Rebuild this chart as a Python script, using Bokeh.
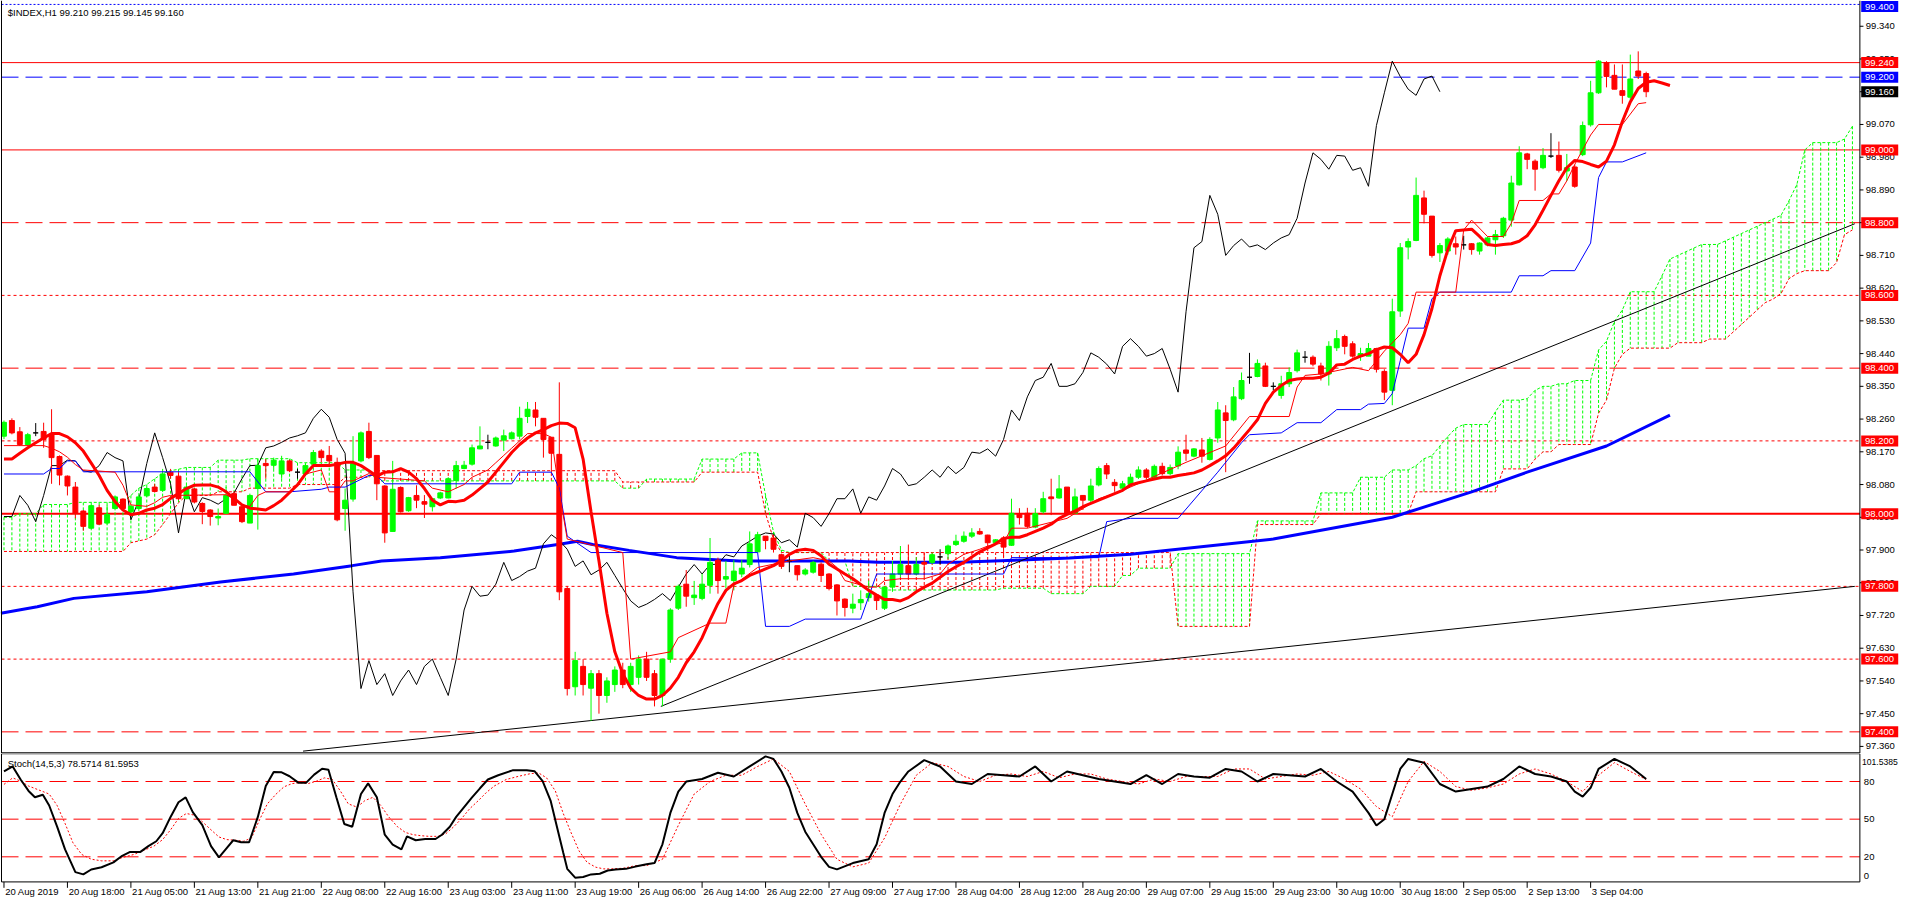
from bokeh.plotting import figure
from bokeh.layouts import column
from bokeh.models import ColumnDataSource, Range1d
from bokeh.core.properties import value
from bokeh.embed import file_html
from bokeh.resources import INLINE

FONT = "Liberation Sans"
FS = "9.5px"

# ---------------- data ----------------
x_labels = ["20 Aug 2019", "20 Aug 18:00", "21 Aug 05:00", "21 Aug 13:00", "21 Aug 21:00",
            "22 Aug 08:00", "22 Aug 16:00", "23 Aug 03:00", "23 Aug 11:00", "23 Aug 19:00",
            "26 Aug 06:00", "26 Aug 14:00", "26 Aug 22:00", "27 Aug 09:00", "27 Aug 17:00",
            "28 Aug 04:00", "28 Aug 12:00", "28 Aug 20:00", "29 Aug 07:00", "29 Aug 15:00",
            "29 Aug 23:00", "30 Aug 10:00", "30 Aug 18:00", "2 Sep 05:00", "2 Sep 13:00",
            "3 Sep 04:00"]
x_label_bars = [0, 8, 16, 24, 32, 40, 48, 56, 64, 72, 80, 88, 96, 104, 112, 120, 128, 136,
                144, 152, 160, 168, 176, 184, 192, 200]

price_ticks = [97.36, 97.45, 97.54, 97.63, 97.72, 97.81, 97.90, 97.99, 98.08, 98.17, 98.26,
               98.35, 98.44, 98.53, 98.62, 98.71, 98.80, 98.89, 98.98, 99.07, 99.16, 99.25, 99.34]

opens = [98.213, 98.256, 98.225, 98.190, 98.222, 98.226, 98.217, 98.157, 98.103, 98.073,
         98.007, 97.960, 98.016, 97.974, 98.014, 98.040, 98.005, 98.014, 98.049, 98.073,
         98.064, 98.114, 98.103, 98.041, 98.068, 98.028, 98.010, 97.988, 98.001, 98.055,
         98.019, 97.974, 98.069, 98.138, 98.133, 98.109, 98.145, 98.114, 98.109, 98.136,
         98.172, 98.160, 98.141, 98.014, 98.040, 98.145, 98.226, 98.160, 98.076, 97.951,
         98.072, 98.008, 98.050, 98.033, 98.019, 98.043, 98.043, 98.091, 98.124, 98.136,
         98.178, 98.196, 98.186, 98.202, 98.206, 98.213, 98.267, 98.285, 98.262, 98.210,
         98.163, 97.794, 97.524, 97.580, 97.520, 97.560, 97.500, 97.530, 97.570, 97.530,
         97.550, 97.600, 97.560, 97.500, 97.600, 97.740, 97.806, 97.769, 97.767, 97.803,
         97.872, 97.820, 97.816, 97.834, 97.860, 97.895, 97.938, 97.933, 97.887, 97.870,
         97.857, 97.834, 97.839, 97.861, 97.834, 97.804, 97.765, 97.740, 97.755, 97.769,
         97.776, 97.740, 97.798, 97.834, 97.857, 97.834, 97.866, 97.866, 97.881, 97.890,
         97.915, 97.924, 97.938, 97.951, 97.941, 97.920, 97.933, 97.913, 97.998, 98.001,
         97.963, 98.005, 98.046, 98.043, 98.073, 98.001, 98.050, 98.037, 98.079, 98.132,
         98.086, 98.070, 98.080, 98.100, 98.120, 98.100, 98.130, 98.110, 98.131, 98.175,
         98.158, 98.175, 98.149, 98.208, 98.277, 98.258, 98.316, 98.375, 98.377, 98.406,
         98.350, 98.325, 98.357, 98.393, 98.430, 98.430, 98.406, 98.384, 98.456, 98.487,
         98.467, 98.433, 98.433, 98.454, 98.391, 98.339, 98.557, 98.733, 98.751, 98.868,
         98.818, 98.717, 98.722, 98.742, 98.739, 98.742, 98.722, 98.739, 98.753, 98.764,
         98.807, 98.904, 98.989, 98.969, 98.951, 98.983, 98.985, 98.942, 98.953, 98.987,
         99.069, 99.157, 99.240, 99.205, 99.163, 99.145, 99.217, 99.210]
highs = [98.256, 98.262, 98.238, 98.222, 98.249, 98.250, 98.287, 98.160, 98.105, 98.087,
         98.010, 98.024, 98.024, 98.024, 98.050, 98.042, 98.025, 98.050, 98.073, 98.082,
         98.123, 98.123, 98.114, 98.078, 98.070, 98.031, 98.012, 98.014, 98.073, 98.061,
         98.021, 98.055, 98.150, 98.150, 98.154, 98.159, 98.148, 98.123, 98.136, 98.175,
         98.177, 98.186, 98.154, 98.069, 98.213, 98.226, 98.250, 98.160, 98.078, 98.145,
         98.075, 98.046, 98.078, 98.051, 98.042, 98.060, 98.100, 98.145, 98.145, 98.190,
         98.240, 98.217, 98.212, 98.231, 98.226, 98.294, 98.307, 98.307, 98.262, 98.210,
         98.361, 97.800, 97.620, 97.600, 97.570, 97.570, 97.550, 97.580, 97.590, 97.590,
         97.610, 97.620, 97.570, 97.520, 97.740, 97.805, 97.845, 97.815, 97.835, 97.933,
         97.879, 97.870, 97.872, 97.872, 97.951, 97.950, 97.938, 97.942, 97.890, 97.884,
         97.857, 97.850, 97.870, 97.866, 97.836, 97.806, 97.767, 97.780, 97.789, 97.816,
         97.776, 97.800, 97.870, 97.911, 97.915, 97.880, 97.893, 97.893, 97.902, 97.915,
         97.942, 97.951, 97.960, 97.960, 97.942, 97.930, 97.938, 98.041, 98.015, 98.016,
         98.015, 98.060, 98.096, 98.106, 98.073, 98.069, 98.050, 98.096, 98.130, 98.139,
         98.095, 98.090, 98.110, 98.130, 98.125, 98.135, 98.140, 98.135, 98.185, 98.217,
         98.180, 98.208, 98.210, 98.307, 98.298, 98.348, 98.388, 98.442, 98.424, 98.415,
         98.361, 98.379, 98.402, 98.451, 98.447, 98.435, 98.415, 98.474, 98.505, 98.492,
         98.474, 98.456, 98.469, 98.456, 98.397, 98.591, 98.744, 98.757, 98.924, 98.888,
         98.818, 98.744, 98.760, 98.762, 98.764, 98.744, 98.746, 98.762, 98.780, 98.816,
         98.929, 99.010, 98.992, 98.974, 99.005, 99.046, 99.023, 98.989, 98.960, 99.078,
         99.190, 99.247, 99.244, 99.235, 99.235, 99.262, 99.271, 99.215]
lows = [98.205, 98.218, 98.186, 98.186, 98.213, 98.181, 98.082, 98.078, 98.050, 97.987,
        97.953, 97.958, 97.970, 97.970, 98.014, 98.010, 98.000, 98.012, 98.046, 98.058,
        98.060, 98.096, 98.037, 98.040, 98.028, 97.971, 97.967, 97.968, 98.000, 98.023,
        97.974, 97.974, 97.956, 98.096, 98.123, 98.096, 98.114, 98.096, 98.105, 98.132,
        98.141, 98.136, 97.979, 97.953, 98.033, 98.141, 98.150, 98.037, 97.920, 97.951,
        98.003, 98.005, 98.015, 97.988, 98.006, 98.040, 98.042, 98.069, 98.122, 98.132,
        98.177, 98.177, 98.184, 98.172, 98.204, 98.204, 98.249, 98.240, 98.154, 98.114,
        97.762, 97.500, 97.500, 97.500, 97.430, 97.450, 97.480, 97.510, 97.520, 97.510,
        97.530, 97.540, 97.470, 97.470, 97.590, 97.735, 97.744, 97.749, 97.762, 97.780,
        97.780, 97.794, 97.789, 97.825, 97.852, 97.893, 97.902, 97.893, 97.848, 97.839,
        97.816, 97.830, 97.835, 97.812, 97.789, 97.720, 97.717, 97.726, 97.735, 97.758,
        97.735, 97.735, 97.785, 97.825, 97.825, 97.830, 97.825, 97.861, 97.861, 97.875,
        97.911, 97.920, 97.933, 97.942, 97.897, 97.915, 97.880, 97.911, 97.970, 97.960,
        97.960, 98.000, 97.996, 98.041, 97.997, 98.001, 98.010, 98.032, 98.075, 98.095,
        98.060, 98.060, 98.075, 98.095, 98.095, 98.098, 98.105, 98.105, 98.122, 98.145,
        98.155, 98.140, 98.146, 98.195, 98.114, 98.254, 98.312, 98.357, 98.375, 98.348,
        98.339, 98.316, 98.348, 98.388, 98.415, 98.405, 98.366, 98.352, 98.447, 98.438,
        98.429, 98.420, 98.433, 98.388, 98.312, 98.298, 98.541, 98.699, 98.749, 98.798,
        98.704, 98.692, 98.712, 98.712, 98.726, 98.712, 98.712, 98.735, 98.712, 98.758,
        98.789, 98.902, 98.947, 98.888, 98.947, 98.978, 98.938, 98.915, 98.896, 98.983,
        99.064, 99.154, 99.172, 99.167, 99.127, 99.132, 99.195, 99.145]
closes = [98.251, 98.222, 98.190, 98.217, 98.222, 98.204, 98.154, 98.106, 98.076, 98.001,
          97.965, 98.022, 97.971, 97.998, 98.046, 98.014, 98.020, 98.046, 98.069, 98.061,
          98.109, 98.105, 98.041, 98.073, 98.032, 98.006, 97.992, 97.992, 98.050, 98.023,
          97.978, 98.050, 98.132, 98.132, 98.147, 98.145, 98.118, 98.114, 98.132, 98.168,
          98.154, 98.145, 97.983, 98.037, 98.138, 98.222, 98.154, 98.082, 97.947, 98.067,
          98.005, 98.044, 98.037, 98.026, 98.041, 98.057, 98.096, 98.132, 98.133, 98.181,
          98.186, 98.196, 98.208, 98.214, 98.222, 98.262, 98.287, 98.265, 98.204, 98.166,
          97.785, 97.519, 97.596, 97.530, 97.560, 97.500, 97.540, 97.570, 97.530, 97.580,
          97.600, 97.550, 97.500, 97.600, 97.735, 97.800, 97.773, 97.776, 97.806, 97.866,
          97.816, 97.827, 97.842, 97.850, 97.917, 97.942, 97.926, 97.902, 97.855, 97.870,
          97.832, 97.845, 97.866, 97.830, 97.794, 97.760, 97.742, 97.751, 97.764, 97.780,
          97.761, 97.798, 97.834, 97.860, 97.834, 97.860, 97.861, 97.887, 97.881, 97.911,
          97.924, 97.938, 97.947, 97.944, 97.920, 97.928, 97.908, 98.001, 97.989, 97.965,
          98.000, 98.041, 98.041, 98.068, 98.001, 98.046, 98.037, 98.076, 98.124, 98.109,
          98.077, 98.082, 98.100, 98.120, 98.100, 98.130, 98.110, 98.127, 98.169, 98.166,
          98.178, 98.158, 98.204, 98.285, 98.256, 98.321, 98.366, 98.375, 98.413, 98.350,
          98.350, 98.357, 98.388, 98.442, 98.430, 98.411, 98.384, 98.460, 98.481, 98.460,
          98.433, 98.440, 98.454, 98.397, 98.334, 98.555, 98.731, 98.748, 98.875, 98.823,
          98.710, 98.737, 98.755, 98.733, 98.739, 98.726, 98.744, 98.758, 98.767, 98.812,
          98.909, 98.992, 98.974, 98.947, 98.985, 98.983, 98.944, 98.951, 98.900, 99.067,
          99.157, 99.244, 99.202, 99.167, 99.150, 99.195, 99.203, 99.160]

ma_fast = [98.150, 98.150, 98.166, 98.181, 98.195, 98.208, 98.220, 98.220, 98.211, 98.195,
           98.172, 98.139, 98.105, 98.064, 98.033, 98.010, 97.997, 98.001, 98.010, 98.015,
           98.025, 98.042, 98.055, 98.069, 98.078, 98.079, 98.079, 98.073, 98.060, 98.042,
           98.024, 98.015, 98.013, 98.010, 98.022, 98.037, 98.058, 98.079, 98.109, 98.132,
           98.132, 98.132, 98.136, 98.141, 98.141, 98.132, 98.118, 98.103, 98.114, 98.115,
           98.124, 98.114, 98.096, 98.069, 98.037, 98.024, 98.034, 98.033, 98.037, 98.051,
           98.069, 98.087, 98.114, 98.141, 98.168, 98.190, 98.208, 98.222, 98.231, 98.242,
           98.249, 98.248, 98.236, 98.150, 98.005, 97.870, 97.726, 97.620, 97.560, 97.520,
           97.500, 97.490, 97.490, 97.500, 97.520, 97.550, 97.590, 97.620, 97.659, 97.708,
           97.753, 97.789, 97.807, 97.816, 97.830, 97.839, 97.848, 97.857, 97.870, 97.888,
           97.899, 97.902, 97.899, 97.884, 97.861, 97.848, 97.834, 97.821, 97.805, 97.789,
           97.776, 97.764, 97.764, 97.760, 97.769, 97.785, 97.798, 97.809, 97.825, 97.841,
           97.854, 97.866, 97.881, 97.895, 97.906, 97.917, 97.932, 97.935, 97.935, 97.942,
           97.951, 97.960, 97.971, 97.987, 97.998, 98.007, 98.019, 98.028, 98.037, 98.046,
           98.055, 98.064, 98.079, 98.085, 98.090, 98.095, 98.100, 98.100, 98.105, 98.108,
           98.112, 98.120, 98.132, 98.145, 98.159, 98.180, 98.205, 98.231, 98.258, 98.303,
           98.334, 98.352, 98.366, 98.370, 98.372, 98.372, 98.375, 98.386, 98.409, 98.411,
           98.424, 98.433, 98.440, 98.451, 98.458, 98.456, 98.438, 98.415, 98.438, 98.492,
           98.564, 98.654, 98.726, 98.778, 98.780, 98.782, 98.762, 98.740, 98.737, 98.740,
           98.742, 98.749, 98.764, 98.794, 98.834, 98.875, 98.915, 98.951, 98.971, 98.968,
           98.960, 98.953, 98.969, 99.014, 99.078, 99.132, 99.169, 99.186, 99.190, 99.184,
           99.177]

ma_slow_x = [-0.4, 4.2, 8.8, 18, 27.3, 36.5, 43.9, 47.6, 55, 64.3, 69.8, 72.3, 74.2, 78.8,
             84.8, 92.7, 106.5, 110.2, 120.4, 127.4, 134.3, 142, 160, 175, 185, 192, 202, 210]
ma_slow_y = [97.726, 97.744, 97.767, 97.785, 97.812, 97.834, 97.857, 97.870, 97.879, 97.897,
             97.915, 97.924, 97.915, 97.899, 97.879, 97.870, 97.870, 97.866, 97.866, 97.872,
             97.878, 97.888, 97.930, 97.990, 98.060, 98.114, 98.186, 98.271]

tenkan_x = [0, 5, 6, 7, 8, 9, 10, 14, 15, 16, 18, 19, 20, 21, 28, 29, 30, 31, 32, 33, 36, 37,
            38, 40, 41, 42, 43, 44, 45, 46, 47, 53, 54, 56, 57, 58, 59, 60, 61, 62, 63, 64, 65,
            66, 68, 69, 70, 71, 78, 79, 84, 85, 89, 91, 92, 95, 97, 99, 102, 104, 105, 106, 109,
            110, 111, 113, 116, 118, 119, 121, 123, 124, 126, 127, 129, 134, 136, 138, 140, 142,
            149, 154, 157, 162, 163, 164, 166, 170, 172, 174, 176, 177, 178, 183, 184, 185, 187,
            189, 190, 191, 194, 195, 196, 197, 198, 200, 201, 204, 206, 207]
tenkan_y = [98.187, 98.187, 98.180, 98.170, 98.155, 98.135, 98.120, 98.114, 98.078, 98.024,
            98.020, 98.030, 98.045, 98.050, 98.052, 98.040, 98.024, 98.020, 98.050, 98.060,
            98.060, 98.079, 98.109, 98.120, 98.060, 98.060, 98.090, 98.090, 98.100, 98.110,
            98.100, 98.090, 98.070, 98.060, 98.070, 98.080, 98.100, 98.110, 98.120, 98.140,
            98.160, 98.180, 98.200, 98.220, 98.220, 98.210, 98.060, 97.930, 97.893, 97.600,
            97.620, 97.659, 97.699, 97.699, 97.803, 97.852, 97.861, 97.870, 97.879, 97.870,
            97.852, 97.816, 97.798, 97.798, 97.816, 97.821, 97.821, 97.834, 97.861, 97.888,
            97.902, 97.911, 97.920, 97.960, 97.960, 97.987, 98.014, 98.041, 98.055, 98.073,
            98.141, 98.186, 98.267, 98.267, 98.348, 98.380, 98.384, 98.402, 98.393, 98.447,
            98.492, 98.523, 98.609, 98.609, 98.780, 98.807, 98.762, 98.762, 98.798, 98.861,
            98.861, 98.879, 98.879, 98.915, 98.960, 99.041, 99.070, 99.070, 99.127, 99.130]
kijun_x = [0, 5, 6, 7, 8, 9, 10, 31, 33, 36, 40, 41, 43, 46, 47, 48, 64, 65, 69, 70, 71, 74,
           95, 96, 99, 101, 108, 110, 126, 127, 138, 139, 142, 148, 153, 156, 157, 161, 163,
           166, 168, 171, 172, 174, 175, 176, 177, 179, 180, 181, 190, 191, 194, 195, 198, 200,
           201, 202, 204, 207]
kijun_y = [98.109, 98.109, 98.124, 98.124, 98.145, 98.145, 98.115, 98.115, 98.060, 98.060,
           98.067, 98.073, 98.073, 98.105, 98.105, 98.082, 98.082, 98.114, 98.114, 98.070,
           97.938, 97.893, 97.893, 97.690, 97.690, 97.710, 97.710, 97.834, 97.834, 97.879,
           97.879, 97.978, 97.987, 97.987, 98.114, 98.195, 98.217, 98.222, 98.250, 98.250,
           98.286, 98.286, 98.301, 98.303, 98.330, 98.420, 98.510, 98.510, 98.591, 98.609,
           98.609, 98.654, 98.654, 98.668, 98.668, 98.744, 98.924, 98.967, 98.967, 98.992]

senkou_a = [97.99, 97.99, 98.0, 98.0, 98.0, 98.025, 98.025, 98.025, 98.025, 98.031,
            98.031, 98.031, 98.031, 98.031, 98.031, 98.031, 98.05, 98.07, 98.08, 98.096,
            98.11, 98.118, 98.122, 98.127, 98.127, 98.127, 98.127, 98.147, 98.147, 98.147,
            98.147, 98.151, 98.151, 98.151, 98.151, 98.151, 98.151, 98.14, 98.14, 98.14,
            98.14, 98.14, 98.14, 98.12, 98.12, 98.12, 98.12, 98.09, 98.09, 98.09,
            98.09, 98.09, 98.09, 98.09, 98.09, 98.09, 98.09, 98.09, 98.09, 98.09,
            98.09, 98.09, 98.09, 98.09, 98.09, 98.09, 98.09, 98.09, 98.09, 98.09,
            98.09, 98.09, 98.09, 98.09, 98.09, 98.09, 98.09, 98.09, 98.07, 98.07,
            98.07, 98.095, 98.095, 98.095, 98.095, 98.095, 98.095, 98.095, 98.15, 98.15,
            98.15, 98.15, 98.15, 98.167, 98.167, 98.167, 98.05, 97.95, 97.90, 97.893,
            97.893, 97.893, 97.893, 97.893, 97.87, 97.87, 97.87, 97.80, 97.80, 97.80,
            97.80, 97.79, 97.79, 97.79, 97.79, 97.79, 97.79, 97.79, 97.79, 97.79,
            97.79, 97.79, 97.79, 97.79, 97.79, 97.79, 97.795, 97.795, 97.795, 97.795,
            97.795, 97.795, 97.78, 97.78, 97.78, 97.78, 97.78, 97.80, 97.80, 97.80,
            97.80, 97.83, 97.83, 97.85, 97.85, 97.85, 97.85, 97.85, 97.89, 97.89,
            97.89, 97.89, 97.89, 97.89, 97.89, 97.89, 97.89, 97.89, 97.98, 97.98,
            97.98, 97.98, 97.98, 97.98, 97.98, 97.98, 98.057, 98.057, 98.057, 98.057,
            98.057, 98.10, 98.10, 98.10, 98.10, 98.12, 98.12, 98.12, 98.132, 98.151,
            98.159, 98.186, 98.212, 98.235, 98.245, 98.245, 98.245, 98.245, 98.28, 98.312,
            98.312, 98.312, 98.316, 98.339, 98.35, 98.35, 98.357, 98.357, 98.366, 98.366,
            98.366, 98.45, 98.474, 98.528, 98.56, 98.61, 98.61, 98.61, 98.61, 98.654,
            98.70, 98.71, 98.72, 98.73, 98.74, 98.74, 98.74, 98.75, 98.76, 98.77,
            98.78, 98.79, 98.80, 98.81, 98.82, 98.86, 98.905, 99.0, 99.02, 99.02,
            99.02, 99.02, 99.03, 99.065]
senkou_b = [97.896, 97.896, 97.896, 97.896, 97.896, 97.896, 97.896, 97.896, 97.896, 97.896,
            97.896, 97.896, 97.896, 97.896, 97.896, 97.896, 97.92, 97.925, 97.93, 97.942,
            97.97, 98.0, 98.03, 98.05, 98.05, 98.05, 98.05, 98.06, 98.06, 98.06,
            98.06, 98.07, 98.07, 98.07, 98.07, 98.07, 98.07, 98.08, 98.08, 98.08,
            98.08, 98.08, 98.08, 98.10, 98.10, 98.10, 98.10, 98.118, 98.118, 98.118,
            98.118, 98.118, 98.118, 98.118, 98.118, 98.118, 98.118, 98.118, 98.118, 98.118,
            98.118, 98.118, 98.118, 98.118, 98.118, 98.118, 98.118, 98.118, 98.118, 98.118,
            98.118, 98.118, 98.118, 98.118, 98.118, 98.118, 98.118, 98.118, 98.087, 98.087,
            98.087, 98.087, 98.087, 98.087, 98.087, 98.087, 98.087, 98.087, 98.114, 98.114,
            98.114, 98.114, 98.114, 98.114, 98.114, 98.114, 98.0, 97.93, 97.893, 97.893,
            97.893, 97.893, 97.893, 97.893, 97.893, 97.893, 97.893, 97.893, 97.893, 97.893,
            97.893, 97.893, 97.893, 97.893, 97.893, 97.893, 97.893, 97.893, 97.893, 97.893,
            97.893, 97.893, 97.893, 97.893, 97.893, 97.893, 97.893, 97.893, 97.893, 97.893,
            97.893, 97.893, 97.893, 97.893, 97.893, 97.893, 97.893, 97.893, 97.893, 97.893,
            97.893, 97.893, 97.893, 97.893, 97.893, 97.893, 97.893, 97.893, 97.69, 97.69,
            97.69, 97.69, 97.69, 97.69, 97.69, 97.69, 97.69, 97.69, 97.97, 97.97,
            97.97, 97.97, 97.97, 97.97, 97.97, 97.97, 98.0, 98.0, 98.0, 98.0,
            98.0, 98.0, 98.0, 98.0, 98.0, 98.0, 98.0, 98.0, 98.06, 98.06,
            98.06, 98.06, 98.06, 98.06, 98.06, 98.06, 98.06, 98.06, 98.06, 98.123,
            98.123, 98.123, 98.123, 98.15, 98.17, 98.17, 98.19, 98.19, 98.19, 98.19,
            98.19, 98.276, 98.312, 98.40, 98.438, 98.455, 98.455, 98.455, 98.455, 98.455,
            98.455, 98.47, 98.47, 98.47, 98.47, 98.48, 98.48, 98.48, 98.50, 98.52,
            98.54, 98.56, 98.58, 98.59, 98.605, 98.646, 98.66, 98.668, 98.668, 98.668,
            98.668, 98.69, 98.767, 98.78]

CHIKOU_SHIFT = 26

level_prices = [99.400, 99.240, 99.200, 99.000, 98.800, 98.600, 98.400, 98.200, 98.000,
                97.800, 97.600, 97.400]
current_price = 99.160

trend1_x = [37.7, 233.3]
trend1_y = [97.347, 97.800]
trend2_x = [82.8, 233.3]
trend2_y = [97.470, 98.797]

stoch_x = [0, 1.1, 2.1, 3.1, 3.9, 4.9, 5.7, 6.7, 7.7, 9, 10, 11, 12.3, 13.8, 14.9, 15.9, 17.2,
           18.2, 19.2, 20, 21, 22, 22.9, 23.8, 25, 26.1, 27.1, 28.1, 28.9, 29.9, 30.9, 32, 33,
           34, 35, 36, 37.1, 38.1, 39.1, 40.1, 40.9, 41.9, 42.9, 43.9, 45, 45.9, 47, 48, 49,
           50.1, 50.8, 51.9, 53.1, 54.4, 55.2, 56.2, 57, 58, 59, 60, 61, 62.3, 64.1, 65.9,
           66.9, 67.9, 68.9, 69.7, 70.5, 71, 72, 73, 74, 75.1, 76.1, 77.1, 78.4, 79.6,
           81, 82, 83, 84, 85, 86, 88, 90, 92, 94, 96, 97, 98, 99, 100, 101, 102, 103, 104,
           105, 107, 109, 110, 111, 112, 113, 114, 116, 118, 120, 122, 124, 126, 128, 130,
           132, 134, 136, 138, 140, 142, 144, 146, 148, 150, 152, 154, 156, 158, 160, 162,
           164, 166, 168, 170, 172, 173, 174, 175, 176, 177, 179, 181, 183, 185, 187, 189,
           191, 193, 195, 197, 198, 199, 200, 201, 203, 205, 207]
stoch_main = [88, 92, 81.6, 72.5, 67.4, 69.4, 60.9, 44, 25.9, 7.8, 6, 9.9, 11.7, 15.6, 20.8,
              23.9, 23.9, 28.5, 32.4, 38.8, 51.8, 63.5, 67.4, 55.6, 45.3, 28.5, 19.5, 27.2,
              33.2, 31.6, 31.6, 51.8, 76.4, 87.6, 87.3, 84.2, 79.1, 79.1, 85.5, 90.2, 89.4,
              67.4, 46.1, 44, 70, 78.5, 67.4, 37.6, 29.8, 25.9, 36.3, 33.2, 34.2, 34.2, 37.6,
              44, 51.8, 59.6, 67.4, 74.6, 81.6, 85, 88.9, 88.9, 88.1, 80.3, 64.8, 44, 23.3,
              10.4, 3.4, 3.9, 6, 6.5, 9.1, 9.9, 10.4, 12.2,
              14, 15, 30, 55, 72, 80, 82, 87, 84, 92, 100, 98, 88, 75, 55, 40, 30, 20, 12,
              10, 15, 18, 30, 55, 70, 80, 88, 97, 92, 80, 78, 86, 85, 84, 92, 80, 88, 85, 82,
              80, 78, 85, 78, 86, 84, 83, 90, 88, 80, 86, 85, 84, 90, 80, 72, 55, 45, 50, 70,
              90, 98, 95, 78, 72, 74, 76, 82, 92, 86, 84, 80, 72, 68, 75, 90, 98, 92, 82,
              78.57]
signal_x = [0, 1.1, 2.1, 3.1, 4.7, 5.7, 6.7, 7.7, 8.7, 9.8, 11, 12.3, 13.8, 14.9, 16.4, 17.9,
            18.9, 20, 21, 22, 23, 24, 25, 26.1, 27.1, 28.1, 29.2, 30.2, 31.2, 32.2, 33.2, 34.3,
            35.3, 36.3, 37.3, 38.3, 39.4, 40.4, 41.4, 42.4, 43.4, 44.5, 45.5, 46.5, 47.5, 48.5,
            49.6, 50.6, 51.6, 52.6, 53.6, 54.7, 55.7, 56.7, 57.7, 58.7, 59.8, 60.8, 61.8, 63.3,
            64.9, 66.4, 67.4, 68.4, 69.5, 70.5, 71.5, 72.5, 73.5, 74.6, 75.6, 76.6, 78.1, 79.6,
            81, 83, 85, 87, 89, 91, 93, 95, 97, 99, 101, 103, 105, 107, 109, 111, 113, 115,
            117, 119, 121, 123, 125, 127, 129, 131, 133, 135, 137, 139, 141, 143, 145, 147,
            149, 151, 153, 155, 157, 159, 161, 163, 165, 167, 169, 171, 173, 175, 177, 179,
            181, 183, 185, 187, 189, 191, 193, 195, 197, 199, 201, 203, 205, 207]
stoch_signal = [77.7, 82.9, 80.3, 76.4, 72.5, 70, 60.9, 46.6, 31.1, 21.9, 18.1, 16.8, 16.8,
                19.4, 21.9, 25.9, 28.5, 33.7, 41.5, 50.6, 54.5, 53.2, 48, 41.5, 35.8, 33.7,
                33.2, 32.4, 35, 49.3, 62.2, 70, 75.8, 78.3, 79.1, 78.3, 80.3, 82.9, 81.6, 72.5,
                62.2, 59.6, 64.8, 67.4, 60.9, 51.8, 44, 39.4, 37.6, 36.8, 36.3, 36.3, 38.4, 44,
                50.6, 58.3, 64.8, 71.2, 76.4, 81.6, 84.2, 86.3, 86.8, 82.9, 72.5, 54.5, 39,
                24.6, 15.6, 11.7, 10.4, 10.4, 10.9, 13,
                13, 18, 45, 70, 80, 85, 85, 92, 98, 88, 62, 38, 18, 12, 15, 35, 62, 85, 95,
                92, 84, 80, 85, 86, 84, 88, 83, 86, 86, 82, 80, 78, 82, 80, 84, 84, 84, 90,
                90, 82, 84, 86, 85, 88, 82, 74, 60, 52, 80, 96, 88, 76, 73, 75, 78, 86, 90,
                86, 80, 72, 85, 95, 88, 81.6]
stoch_levels = [80, 50, 20]
stoch_axis_labels = ["101.5385", "80", "50", "20", "0"]
stoch_axis_values = [101.5385, 80, 50, 20, 0]

# ---------------- layout / style ----------------
GREEN = "#00ff00"
RED = "#ff0000"
BLUE = "#0000ff"
level_colors = [BLUE, RED, BLUE, RED, RED, RED, RED, RED, RED, RED, RED, RED]
level_dashes = ["2 2", "solid", "17 7", "solid", "17 7", "3 3", "17 7", "3 3", "solid",
                "3 3", "3 3", "17 7"]
level_widths = [1, 1, 1, 1, 1, 1, 1, 1, 2, 1, 1, 1]

W = 1900
XL, XR = -0.4375, 239.06          # whole canvas width, in bars
FR_L, FR_R = -0.31, 233.94        # plotting area left edge / price-axis line
MAIN_H, STO_H = 753, 149
PY0, PY1 = 97.3405, 99.4108
SY0, SY1 = -16.402, 102.319
TXT_X = 234.69                    # left edge of the price-axis texts
BOX_X = 236.44                    # centre of the price boxes
TOP_BOX_DROP = 0.0165             # keeps the topmost box inside the window


def txt(fig, x, y, t, color="black", align="left", baseline="middle", size=FS):
    fig.text(x=x, y=y, text=t, text_font=value(FONT), text_font_size=value(size),
             text_color=color, text_align=align, text_baseline=baseline)


p = figure(width=W, height=MAIN_H, x_range=Range1d(XL, XR), y_range=Range1d(PY0, PY1),
           output_backend="svg", toolbar_location=None, x_axis_location=None,
           y_axis_location=None, min_border=0)
p.xgrid.visible = False
p.ygrid.visible = False
p.outline_line_color = None
p.background_fill_color = "white"
p.border_fill_color = "white"

for lv, c, d, w in zip(level_prices, level_colors, level_dashes, level_widths):
    p.segment(x0=[FR_L], y0=[lv], x1=[FR_R], y1=[lv], line_color=c, line_dash=d, line_width=w)

bars_all = list(range(len(senkou_a)))
hcol = [GREEN if a >= b else RED for a, b in zip(senkou_a, senkou_b)]
p.segment(x0=bars_all, y0=senkou_a, x1=bars_all, y1=senkou_b, line_color=hcol,
          line_width=1, line_dash="3 2")
p.line(bars_all, senkou_a, line_color=GREEN, line_width=1, line_dash="3 2")
p.line(bars_all, senkou_b, line_color=RED, line_width=1, line_dash="3 2")

p.line(ma_slow_x, ma_slow_y, line_color=BLUE, line_width=3)

p.line(trend1_x, trend1_y, line_color="black", line_width=1)
p.line(trend2_x, trend2_y, line_color="black", line_width=1)

ch_x = list(range(len(closes) - CHIKOU_SHIFT))
p.line(ch_x, closes[CHIKOU_SHIFT:], line_color="black", line_width=1)

bars = list(range(len(closes)))
ccol = [GREEN if c > o else (RED if c < o else "black") for o, c in zip(opens, closes)]
src = ColumnDataSource(dict(x=bars, h=highs, l=lows,
                            top=[max(o, c) for o, c in zip(opens, closes)],
                            bot=[min(o, c) for o, c in zip(opens, closes)], col=ccol))
p.segment(x0="x", y0="h", x1="x", y1="l", line_color="col", line_width=1, source=src)
p.vbar(x="x", top="top", bottom="bot", width=0.62, fill_color="col", line_color="col",
       line_width=1, source=src)

p.line(kijun_x, kijun_y, line_color=BLUE, line_width=1)
p.line(tenkan_x, tenkan_y, line_color=RED, line_width=1)
p.line(list(range(len(ma_fast))), ma_fast, line_color=RED, line_width=3)

# frame of the price window
p.segment(x0=[FR_L], y0=[PY0], x1=[FR_L], y1=[PY1], line_color="black", line_width=1)
p.segment(x0=[FR_R], y0=[PY0], x1=[FR_R], y1=[PY1], line_color="black", line_width=1)
p.segment(x0=[FR_L], y0=[PY0 + 0.002], x1=[FR_R], y1=[PY0 + 0.002], line_color="black",
          line_width=1)

# price axis: ticks, tick labels, level boxes
p.segment(x0=[FR_R] * len(price_ticks), y0=price_ticks, x1=[FR_R + 0.45] * len(price_ticks),
          y1=price_ticks, line_color="black", line_width=1)
txt(p, [TXT_X] * len(price_ticks), price_ticks, [f"{t:.3f}" for t in price_ticks])
box_colors = level_colors + ["black"]
box_prices = level_prices + [current_price]
box_y = [min(v, PY1 - TOP_BOX_DROP) for v in box_prices]
p.rect(x=[BOX_X] * len(box_prices), y=box_y, width=37, height=11, width_units="screen",
       height_units="screen", fill_color=box_colors, line_color=None)
txt(p, [TXT_X - 0.1] * len(box_prices), box_y, [f"{v:.3f}" for v in box_prices],
    color="white")

txt(p, [0.48], [99.378], ["$INDEX,H1  99.210 99.215 99.145 99.160"])

# ---------------- stochastic window ----------------
s = figure(width=W, height=STO_H, x_range=p.x_range, y_range=Range1d(SY0, SY1),
           output_backend="svg", toolbar_location=None, x_axis_location=None,
           y_axis_location=None, min_border=0)
s.xgrid.visible = False
s.ygrid.visible = False
s.outline_line_color = None
s.background_fill_color = "white"
s.border_fill_color = "white"

for lv in stoch_levels:
    s.segment(x0=[FR_L], y0=[lv], x1=[FR_R], y1=[lv], line_color=RED, line_dash="17 7",
              line_width=1)
s.line(signal_x, stoch_signal, line_color=RED, line_width=1, line_dash="2 2")
s.line(stoch_x, stoch_main, line_color="black", line_width=2)

top_v = stoch_axis_values[0] + 0.6
s.segment(x0=[FR_L, FR_L, FR_L, FR_R], y0=[top_v, 0, 0, 0], x1=[FR_R, FR_R, FR_L, FR_R],
          y1=[top_v, 0, top_v, top_v], line_color="black", line_width=1)

# right labels (the long top value in a slightly smaller size so it fits)
txt(s, [234.2], [95.3], stoch_axis_labels[:1], size="8.6px")
txt(s, [234.44] * 4, [80, 50, 20, 4.9], stoch_axis_labels[1:])

# time axis
s.segment(x0=x_label_bars, y0=[0] * len(x_label_bars), x1=x_label_bars,
          y1=[-4.7] * len(x_label_bars), line_color="black", line_width=1)
txt(s, [b + 0.15 for b in x_label_bars], [-7.6] * len(x_label_bars), x_labels)

txt(s, [0.48], [94.5], ["Stoch(14,5,3) 78.5714 81.5953"])

layout = column(p, s, spacing=0)
open("out.html", "w").write(file_html(layout, INLINE))
